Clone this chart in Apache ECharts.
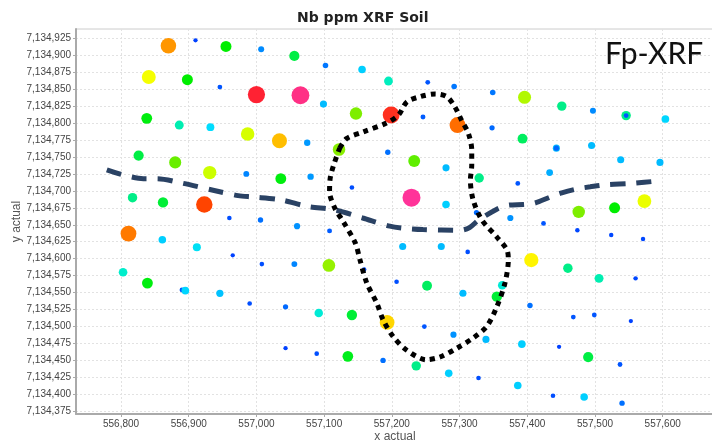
<!DOCTYPE html>
<html><head><meta charset="utf-8">
<script src="https://cdn.jsdelivr.net/npm/echarts@6/dist/echarts.min.js"></script>
<style>html,body{margin:0;padding:0;background:#fff}#c{width:712px;height:444px}</style>
</head><body><div id="c"></div>
<script>
const sampleX = [556870,556910,556955,557007,557056,557102,557156,556841,556898,556946,
557000,557065,557099,557147,556838,556886,556932,556987,557034,557075,
557122,557195,557253,557292,557349,557396,557451,557497,557546,557604,
557199,557246,557297,557348,557393,557443,557495,556826,556880,556931,
556985,557036,557080,557141,556817,556862,556923,556960,557006,557060,
557108,556811,556861,556912,556965,557008,557056,557107,556803,556839,
556890,556895,556946,556990,557043,557092,557141,557043,557089,557135,
557194,557233,557280,557538,557596,557329,557433,557386,557229,557280,
557325,557476,557529,557573,557375,557424,557474,557524,557571,557216,
557273,557312,557406,557460,557506,557560,557159,557207,557252,557363,
557305,557355,557404,557193,557248,557291,557339,557392,557468,557499,
557553,557447,557490,557537,557187,557236,557284,557328,557386,557438,
557484,557540,557546,557443];
const sampleY = [7134914,7134922,7134913,7134909,7134899,7134885,7134879,7134868,7134864,7134853,
7134842,7134841,7134828,7134814,7134807,7134797,7134794,7134784,7134774,7134771,
7134761,7134862,7134860,7134854,7134845,7134838,7134825,7134818,7134811,7134806,
7134812,7134809,7134797,7134793,7134777,7134763,7134767,7134752,7134742,7134727,
7134725,7134718,7134721,7134705,7134690,7134683,7134680,7134660,7134657,7134648,
7134641,7134637,7134628,7134617,7134605,7134592,7134592,7134590,7134580,7134564,
7134554,7134553,7134549,7134534,7134529,7134520,7134517,7134468,7134460,7134456,
7134757,7134744,7134734,7134746,7134742,7134719,7134727,7134711,7134690,7134680,
7134668,7134669,7134675,7134685,7134660,7134652,7134642,7134635,7134629,7134618,
7134618,7134610,7134598,7134586,7134571,7134571,7134584,7134566,7134560,7134561,
7134549,7134544,7134531,7134506,7134500,7134488,7134481,7134474,7134514,7134517,
7134508,7134470,7134455,7134444,7134450,7134442,7134431,7134424,7134413,7134398,
7134396,7134387,7134811,7134763];
const nbValue = [8.4,1.2,5.5,2.3,5.0,2.0,3.3,7.4,5.5,1.5,
9.5,9.9,3.0,6.4,5.4,4.2,3.5,7.1,8.1,2.5,
6.5,4.1,1.5,2.0,2.0,6.8,4.5,2.3,4.5,3.4,
9.3,1.6,8.7,1.8,4.8,3.0,3.0,5.0,6.2,7.0,
2.2,5.4,2.5,1.4,4.5,5.1,9.0,1.4,1.9,2.4,
1.6,8.6,3.3,3.6,1.2,1.4,2.2,6.6,4.0,5.4,
1.5,3.4,3.1,1.4,1.8,3.9,5.1,1.2,1.4,5.3,
1.9,6.1,3.0,3.0,3.0,4.5,2.8,1.5,10,3.3,
1.8,6.4,5.5,7.3,2.4,1.5,1.3,1.3,1.3,3.0,
3.0,1.4,7.6,4.5,4.2,1.3,1.4,1.4,4.8,3.9,
3.0,5.1,1.9,7.9,1.5,2.4,3.0,3.3,1.5,1.5,
1.2,1.2,5.0,1.5,1.9,4.5,3.3,1.4,3.3,1.4,
3.3,1.9,1.5,1.8];

const trendX = [556779,556833,556853,556892,556936,556973,556995,557035,557076,557116,557157,557197,557217,557246,557301,557315,557327,557355,557372,557394,557411,557434,557451,557474,557493,557515,557555,557596];
const trendY = [7134731,7134718,7134718,7134711,7134701,7134693,7134691,7134687,7134677,7134672,7134660,7134648,7134645,7134643,7134642,7134646,7134656,7134673,7134679,7134680,7134682,7134691,7134697,7134703,7134706,7134709,7134711,7134715];

const zoneX = [557123,557133,557158,557192,557210,557222,557242,557264,557281,557293,557303,557313,557318,557318,557316,557320,557333,557355,557370,557372,557367,557355,557340,557320,557296,557271,557251,557222,557202,557187,557178,557163,557153,557146,557128,557116,557108,557109,557114,557123];
const zoneY = [7134763,7134777,7134787,7134800,7134812,7134831,7134839,7134843,7134839,7134824,7134804,7134785,7134760,7134738,7134716,7134687,7134657,7134632,7134613,7134598,7134564,7134529,7134500,7134483,7134468,7134455,7134451,7134465,7134485,7134510,7134534,7134564,7134598,7134623,7134655,7134674,7134699,7134719,7134738,7134763];

const xTicks = [556800,556900,557000,557100,557200,557300,557400,557500,557600];
const yTicks = [7134375,7134400,7134425,7134450,7134475,7134500,7134525,7134550,7134575,7134600,7134625,7134650,7134675,7134700,7134725,7134750,7134775,7134800,7134825,7134850,7134875,7134900,7134925];

const points = sampleX.map((x, i) => [x, sampleY[i], nbValue[i]]);
const trend = trendX.map((x, i) => [x, trendY[i]]);
const zone = zoneX.map((x, i) => [x, zoneY[i]]);
const fmt = v => echarts.format.addCommas(v);

const chart = echarts.init(document.getElementById('c'), null, {renderer: 'canvas'});
chart.setOption({
  animation: false,
  backgroundColor: '#fff',
  title: [
    {text: 'Nb ppm XRF Soil', left: 292, top: 6,
     textStyle: {fontFamily: 'DejaVu Sans', fontWeight: 'bold', fontSize: 14, color: '#222'}},
    {text: 'Fp-XRF', left: 600, top: 34,
     textStyle: {fontFamily: 'Lato', fontWeight: 'normal', fontSize: 30, color: '#111'}}
  ],
  grid: {left: 76, right: -2, top: 29, bottom: 30, show: true, borderColor: '#cccccc', borderWidth: 1,
         outerBoundsMode: 'none', containLabel: false},
  xAxis: {
    type: 'value', min: 556733.5, max: 557675.8,
    name: 'x actual', nameLocation: 'middle', nameGap: 17, nameMoveOverlap: false,
    nameTextStyle: {fontFamily: 'Liberation Sans', fontSize: 12, color: '#555'},
    axisLine: {show: true, lineStyle: {color: '#aaaaaa', width: 2}},
    axisTick: {show: true, length: 3, customValues: xTicks, lineStyle: {color: '#aaaaaa'}},
    axisLabel: {customValues: xTicks, formatter: fmt, fontFamily: 'Liberation Sans', fontSize: 10, color: '#444', margin: 5},
    splitLine: {show: true, customValues: xTicks, lineStyle: {color: '#e2e2e2', type: [2, 2], width: 1}}
  },
  yAxis: {
    type: 'value', min: 7134371, max: 7134938.7,
    name: 'y actual', nameLocation: 'middle', nameGap: 53, nameMoveOverlap: false,
    nameTextStyle: {fontFamily: 'Liberation Sans', fontSize: 12, color: '#555'},
    axisLine: {show: true, lineStyle: {color: '#aaaaaa', width: 2}},
    axisTick: {show: true, length: 3, customValues: yTicks, lineStyle: {color: '#aaaaaa'}},
    axisLabel: {customValues: yTicks, formatter: fmt, fontFamily: 'Liberation Sans', fontSize: 10, color: '#444', margin: 5},
    splitLine: {show: true, customValues: yTicks, lineStyle: {color: '#e2e2e2', type: [2, 2], width: 1}}
  },
  visualMap: {
    show: false, type: 'continuous', seriesIndex: 0, dimension: 2, min: 1, max: 10,
    inRange: {
      color: ['#0033ff','#0055ff','#0077ff','#0099ff','#00bbff','#00ddff','#00eecc','#00ee88','#00ee44','#00ee00',
              '#55ee00','#88ee00','#ccff00','#ffff00','#ffcc00','#ff8800','#ff4400','#ff2233','#ff3399'],
      symbolSize: [4, 18]
    }
  },
  series: [
    {type: 'scatter', data: points, symbol: 'circle', itemStyle: {opacity: 1}, z: 2},
    {type: 'line', data: trend, symbol: 'none', smooth: 0.3, silent: true, z: 3,
     lineStyle: {color: '#2a4264', width: 5, type: [15, 11], cap: 'butt'}},
    {type: 'line', data: zone, symbol: 'none', smooth: 0.3, silent: true, z: 4,
     lineStyle: {color: '#000', width: 5, type: [5, 5], cap: 'butt'}}
  ]
});
</script></body></html>
